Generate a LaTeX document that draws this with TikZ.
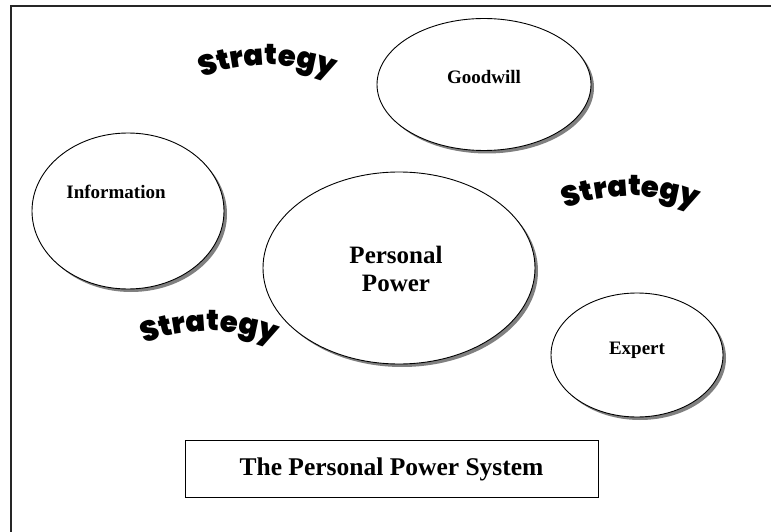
\documentclass[tikz,border=0pt]{standalone}
\usepackage{fontspec}
\setmainfont{Liberation Serif}
\newfontfamily\wafont{Poppins Black}
\usetikzlibrary{shapes.geometric,shadows,decorations.text,calc}
\begin{document}
\begin{tikzpicture}[x=1pt,y=1pt,
  bubble/.style={ellipse, draw=black, line width=0.9pt, fill=white, inner sep=0pt,
    drop shadow={shadow xshift=3pt, shadow yshift=-3pt, fill=black!50, opacity=1}},
  lbl/.style={font=\bfseries\fontsize{19}{22}\selectfont, inner sep=0pt},
  biglbl/.style={font=\bfseries\fontsize{25}{28}\selectfont, align=center, inner sep=0pt},
  arch/.style={decorate, decoration={text along path, text align=center,
    text={|\wafont\fontsize{29}{29}\selectfont|Strategy}}}
]
\useasboundingbox (0,0) rectangle (771,531);
\clip (0,0) rectangle (771,531);

% outer frame (only top and left edges fall on the page)
\draw[line width=2pt, black!85] (10.5,-20) -- (10.5,524.5) -- (800,524.5);

% the four power bubbles
\node[bubble, minimum width=214pt, minimum height=132pt] (goodwill) at (484,446.5) {};
\node[bubble, minimum width=192pt, minimum height=156pt] (info) at (128,320) {};
\node[bubble, minimum width=272pt, minimum height=192pt] (power) at (399,263) {};
\node[bubble, minimum width=172pt, minimum height=124pt] (expert) at (637,176) {};

\node[lbl] (goodwilltxt) at (484,454) {Goodwill};
\node[lbl] (infotxt) at (116,339) {Information};
\node[biglbl] (powertxt) at (396,262) {Personal\\Power};
\node[lbl] (experttxt) at (637,181) {Expert};

% arched "Strategy" word art
\coordinate (arcA) at (267.5,286);
\coordinate (arcB) at (631,155);
\coordinate (arcC) at (209.5,20);
\path[arch] ($(arcA)+(115:180)$) arc[start angle=115, end angle=65, radius=180];
\path[arch] ($(arcB)+(115:180)$) arc[start angle=115, end angle=65, radius=180];
\path[arch] ($(arcC)+(115:180)$) arc[start angle=115, end angle=65, radius=180];

% title box
\node[draw, line width=0.9pt, minimum width=413pt, minimum height=57pt, inner sep=0pt,
  font=\bfseries\fontsize{25.5}{28}\selectfont] (title) at (391.5,61.8) {The Personal Power System};
\end{tikzpicture}
\end{document}
